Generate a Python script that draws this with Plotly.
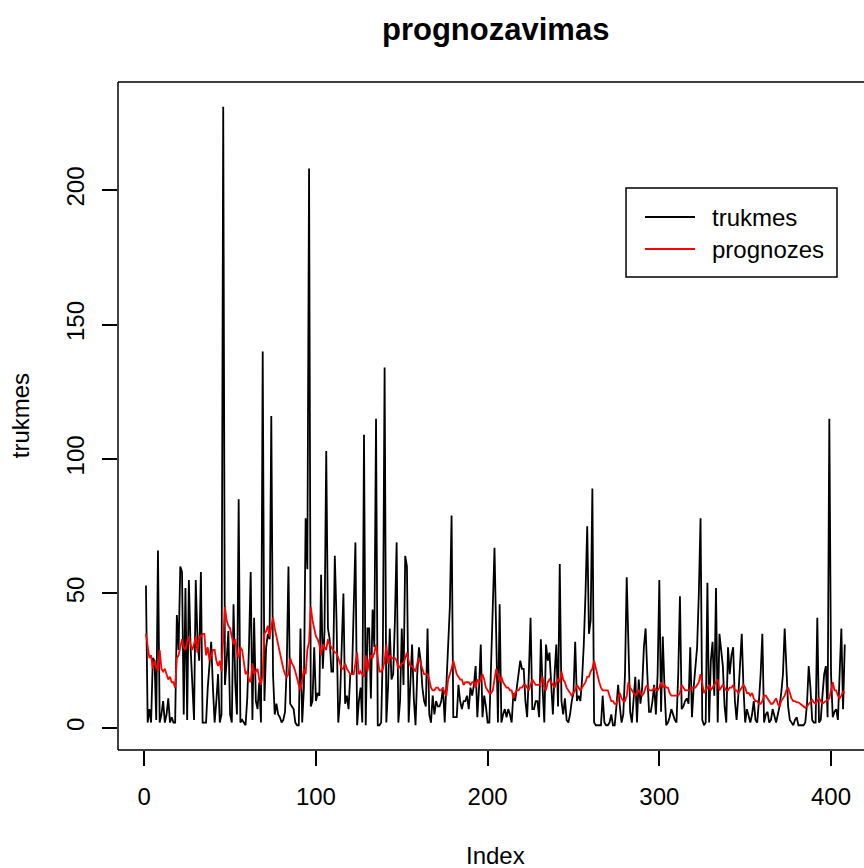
import plotly.graph_objects as go

# observed durations (trukmes) and their one-step forecasts (prognozes)
trukmes = [
    53, 2, 7, 2, 26, 25, 3, 66, 2, 5, 10, 2, 5, 11, 2, 4, 2, 2, 42, 29,
    60, 58, 5, 52, 3, 55, 30, 15, 3, 55, 33, 25, 58, 2, 2, 2, 15, 25, 32, 15,
    2, 10, 20, 2, 5, 231, 16, 25, 36, 5, 2, 46, 17, 5, 85, 2, 3, 2, 1, 11,
    30, 58, 3, 41, 10, 7, 17, 2, 140, 10, 30, 35, 33, 116, 20, 5, 9, 5, 4, 2,
    3, 6, 23, 60, 9, 8, 7, 2, 1, 1, 37, 2, 15, 78, 59, 208, 8, 10, 30, 10,
    13, 12, 57, 22, 36, 103, 37, 33, 21, 21, 64, 40, 2, 10, 30, 50, 9, 12, 7, 20,
    20, 41, 69, 1, 10, 15, 2, 109, 1, 37, 37, 11, 44, 30, 115, 1, 1, 2, 30, 134,
    2, 15, 37, 18, 20, 40, 69, 2, 10, 37, 16, 64, 60, 2, 20, 31, 11, 1, 20, 30,
    25, 15, 10, 8, 37, 5, 2, 12, 5, 10, 8, 8, 10, 15, 2, 15, 31, 45, 79, 4,
    4, 4, 16, 10, 7, 10, 10, 12, 7, 15, 12, 16, 23, 4, 15, 31, 4, 12, 8, 2,
    2, 20, 45, 67, 35, 2, 46, 2, 5, 7, 4, 7, 5, 2, 13, 10, 15, 20, 25, 22,
    22, 10, 4, 20, 41, 7, 7, 10, 10, 4, 33, 15, 2, 31, 25, 28, 15, 5, 20, 31,
    8, 61, 10, 5, 11, 3, 2, 5, 10, 13, 32, 10, 12, 10, 18, 31, 50, 75, 35, 40,
    89, 2, 1, 1, 1, 1, 12, 2, 1, 1, 2, 5, 1, 1, 8, 16, 8, 2, 5, 20,
    56, 25, 6, 2, 10, 19, 2, 18, 9, 15, 30, 37, 20, 6, 6, 10, 16, 5, 20, 55,
    6, 34, 15, 1, 2, 4, 7, 5, 3, 2, 20, 49, 7, 8, 10, 11, 9, 30, 4, 15,
    24, 30, 50, 78, 3, 1, 2, 54, 2, 25, 32, 12, 52, 2, 35, 30, 23, 8, 2, 30,
    20, 27, 30, 10, 3, 12, 25, 35, 15, 2, 7, 4, 2, 5, 10, 3, 2, 10, 20, 35,
    2, 5, 6, 2, 3, 7, 4, 2, 5, 8, 13, 20, 37, 20, 8, 3, 2, 1, 3, 4,
    1, 1, 1, 1, 2, 9, 23, 15, 3, 2, 2, 41, 2, 3, 12, 20, 23, 4, 115, 20,
    4, 6, 7, 3, 20, 37, 7, 31,
]

prognozes = [
    35, 30, 26, 27, 22, 25, 23, 21, 29, 22, 21, 22, 20, 18, 19, 17, 17, 15, 26, 27,
    30, 33, 30, 29, 32, 34, 31, 29, 31, 34, 28, 34, 34, 35, 35, 27, 30, 25, 27, 29,
    29, 25, 23, 25, 21, 35, 45, 40, 38, 37, 34, 31, 33, 28, 26, 30, 29, 24, 20, 21,
    18, 17, 24, 20, 21, 22, 18, 16, 20, 35, 36, 38, 34, 38, 41, 37, 34, 30, 27, 25,
    22, 20, 19, 20, 26, 24, 23, 21, 18, 16, 14, 19, 22, 20, 29, 32, 45, 40, 37, 34,
    33, 31, 27, 31, 30, 29, 33, 31, 30, 29, 28, 28, 26, 24, 22, 22, 24, 22, 21, 20,
    20, 20, 24, 28, 20, 21, 20, 19, 27, 21, 25, 27, 26, 28, 31, 26, 21, 21, 22, 25,
    31, 24, 27, 26, 26, 26, 25, 22, 23, 24, 24, 26, 28, 25, 23, 23, 22, 21, 24, 26,
    24, 22, 20, 20, 20, 18, 15, 14, 14, 15, 15, 14, 14, 15, 13, 12, 18, 20, 22, 25,
    22, 20, 19, 18, 18, 16, 17, 17, 17, 16, 17, 17, 15, 18, 17, 18, 20, 18, 15, 14,
    13, 13, 14, 18, 22, 20, 17, 19, 17, 16, 15, 15, 14, 14, 11, 13, 14, 14, 15, 15,
    16, 16, 15, 14, 16, 18, 17, 16, 16, 16, 17, 19, 15, 14, 17, 18, 17, 16, 15, 17,
    18, 17, 21, 18, 17, 15, 14, 13, 12, 13, 14, 16, 15, 14, 15, 16, 17, 19, 19, 21,
    22, 25, 22, 20, 17, 15, 14, 14, 14, 14, 12, 10, 10, 9, 9, 11, 13, 11, 10, 10,
    12, 17, 15, 14, 13, 12, 13, 14, 13, 12, 13, 15, 16, 14, 14, 14, 15, 14, 14, 15,
    17, 15, 16, 15, 15, 13, 12, 12, 12, 12, 12, 13, 16, 15, 14, 14, 14, 14, 15, 15,
    15, 16, 17, 20, 17, 13, 14, 15, 16, 14, 15, 16, 17, 18, 14, 15, 16, 15, 14, 14,
    15, 15, 16, 14, 14, 13, 14, 15, 16, 15, 13, 13, 12, 13, 11, 10, 10, 9, 9, 10,
    12, 12, 11, 10, 9, 9, 10, 11, 9, 8, 10, 11, 12, 14, 15, 13, 11, 10, 10, 9.5,
    9.5, 9, 8.5, 8, 7.5, 8, 9, 10, 10.5, 9.5, 9, 10, 11, 10, 9, 9.5, 10, 10.5, 11, 14,
    17, 14, 14, 12, 11, 12, 13.5, 13,
]

index = list(range(1, len(trukmes) + 1))

x_ticks = [0, 100, 200, 300, 400]
y_ticks = [0, 50, 100, 150, 200]

series_names = ["trukmes", "prognozes"]
series_colors = ["black", "red"]

FONT = "Liberation Sans, Arial, Helvetica, sans-serif"

fig = go.Figure()
for name, values, color in zip(series_names, [trukmes, prognozes], series_colors):
    fig.add_trace(go.Scatter(x=index, y=values, mode="lines", name=name,
                             line=dict(color=color, width=1.8), showlegend=False))

# plot frame: left, top and bottom edges (the right edge lies past the page)
frame = dict(type="line", xref="paper", yref="paper", line=dict(color="black", width=1.5))
fig.add_shape(**frame, x0=0, x1=0, y0=0, y1=1)
fig.add_shape(**frame, x0=0, x1=1.02, y0=1, y1=1)
fig.add_shape(**frame, x0=0, x1=1.02, y0=0, y1=0)

# legend box in the upper right of the plot, R style
leg_x0, leg_x1, leg_y0, leg_y1 = 0.681, 0.9638, 0.7081, 0.8413
key_x0, key_x1, text_x = 0.7064, 0.7735, 0.7936
row_y = [0.7979, 0.750]
fig.add_shape(type="rect", xref="paper", yref="paper",
              x0=leg_x0, x1=leg_x1, y0=leg_y0, y1=leg_y1,
              line=dict(color="black", width=1.5), fillcolor="white", layer="above")
legend_text = []
for name, color, yy in zip(series_names, series_colors, row_y):
    fig.add_shape(type="line", xref="paper", yref="paper",
                  x0=key_x0, x1=key_x1, y0=yy, y1=yy,
                  line=dict(color=color, width=1.8), layer="above")
    legend_text.append(dict(text=name, xref="paper", yref="paper", x=text_x, y=yy,
                            xanchor="left", yanchor="middle", showarrow=False,
                            font=dict(size=24)))

fig.update_layout(
    width=864, height=868,
    margin=dict(l=118, r=0, t=82, b=118),
    paper_bgcolor="white", plot_bgcolor="white",
    font=dict(family=FONT, size=24, color="black"),
    showlegend=False,
    xaxis=dict(range=[-15.28, 419.2], tickvals=x_ticks, ticktext=[str(v) for v in x_ticks],
               ticks="outside", ticklen=15, tickwidth=1.5, tickcolor="black",
               showgrid=False, zeroline=False, showline=False,
               tickfont=dict(size=24), ticklabelstandoff=10),
    yaxis=dict(range=[-8.2, 240.2], tickvals=y_ticks, ticktext=[str(v) for v in y_ticks],
               ticks="outside", ticklen=15, tickwidth=1.5, tickcolor="black",
               showgrid=False, zeroline=False, showline=False, tickangle=-90,
               tickfont=dict(size=24), ticklabelstandoff=8),
    annotations=[
        dict(text="<b>prognozavimas</b>", xref="paper", yref="paper",
             x=0.5054, y=1.079, xanchor="center", yanchor="middle",
             showarrow=False, font=dict(size=31)),
        dict(text="Index", xref="paper", yref="paper",
             x=0.5054, y=-0.158, xanchor="center", yanchor="middle",
             showarrow=False, font=dict(size=24)),
        dict(text="trukmes", xref="paper", yref="paper",
             x=-0.131, y=0.5, xanchor="center", yanchor="middle",
             textangle=-90, showarrow=False, font=dict(size=24)),
    ] + legend_text,
)

fig.write_html("out.html")
